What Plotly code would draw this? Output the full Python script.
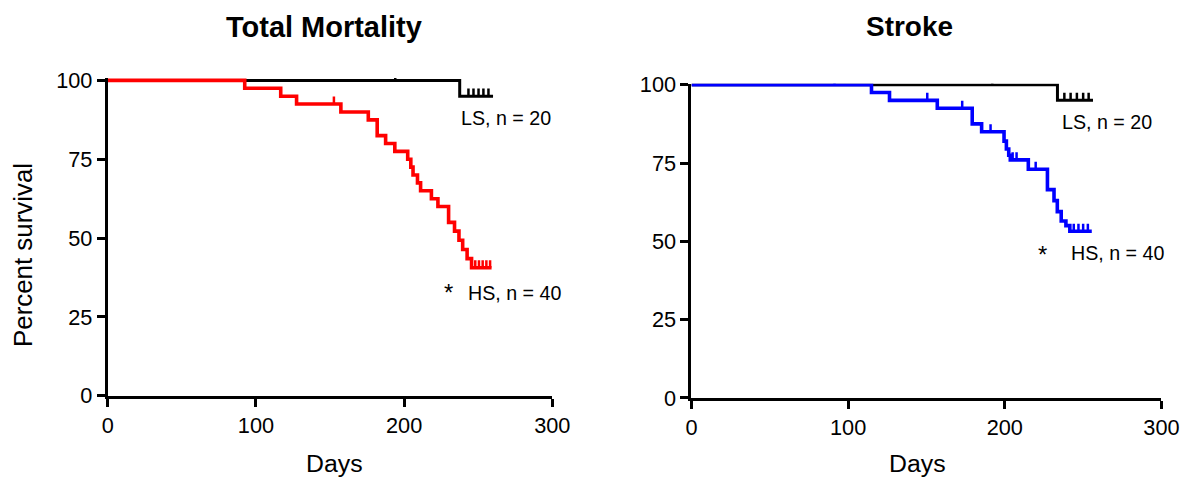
import plotly.graph_objects as go

W, H = 1182, 482

# ---------------- data ----------------
# Total Mortality (left)
tm_ls_days = [0, 237.5, 260]
tm_ls_surv = [100, 95, 95]
tm_ls_cens_days = [194, 243.4, 246.8, 250.2, 253.5, 256.9]
tm_ls_cens_surv = [100, 95, 95, 95, 95, 95]

tm_hs_days = [0, 92.4, 116.7, 127.4, 157.3, 175.8, 181.8, 187.5, 193.7, 202.4, 204.5, 206,
              209, 211.1, 218.4, 222.8, 230, 234, 237, 239.5, 242.5, 245.5, 259]
tm_hs_surv = [100, 97.5, 95, 92.5, 90, 87.5, 82.5, 80, 77.5, 75, 72.5, 70,
              67.5, 65, 62.5, 60, 55, 52.2, 49.3, 46.4, 43.5, 40.6, 40.6]
tm_hs_cens_days = [152.6, 248, 250.5, 253, 255.5, 258]
tm_hs_cens_surv = [92.5, 40.6, 40.6, 40.6, 40.6, 40.6]

# Stroke (right)
st_ls_days = [0, 233.6, 256.3]
st_ls_surv = [100, 95, 95]
st_ls_cens_days = [192, 238, 242, 246, 250, 253.5]
st_ls_cens_surv = [100, 95, 95, 95, 95, 95]

st_hs_days = [0, 114.9, 126.4, 156.9, 179.2, 185.2, 199.5, 201, 202.5, 203.5, 215, 227.2,
              231.4, 233.5, 236, 239, 241.5, 255.5]
st_hs_surv = [100, 97.5, 95, 92.5, 87.5, 85, 82, 79.5, 77.5, 76, 73, 66.5,
              63, 59.5, 56.5, 55, 53.2, 53.2]
st_hs_cens_days = [91.3, 150.5, 172.8, 190.9, 205, 207.5, 219.7, 244, 247, 250, 253]
st_hs_cens_surv = [100, 95, 92.5, 85, 76, 76, 73, 53.2, 53.2, 53.2, 53.2]

x_ticks = [0, 100, 200, 300]
y_ticks = [0, 25, 50, 75, 100]

RED = "#ff0000"
BLUE = "#0000ff"
BLACK = "#000000"
FONT = "Liberation Sans, Arial, sans-serif"

# screen-pixel -> figure-pixel compensation (measured from the rendered output)
SX, BX = 0.9786, 4.8
SY, BY = 0.954, 11.0
FS = 1.035  # font compensation


def fx(p):
    return (p - BX) / SX


def fy(p):
    return (p - BY) / SY


def paper_x(p):
    return fx(p) / W


def paper_y(p):
    return (H - fy(p)) / H


fig = go.Figure()


def add_curve(days, surv, cdays, csurv, color, width, xa, ya):
    fig.add_trace(go.Scatter(x=days, y=surv, mode="lines", line=dict(color=color, width=width, shape="hv"),
                             xaxis=xa, yaxis=ya, showlegend=False, hoverinfo="skip"))
    # censor ticks drawn upward only (one-sided error bar of constant length)
    fig.add_trace(go.Scatter(x=cdays, y=csurv, mode="markers",
                             marker=dict(size=1, color=color, opacity=0),
                             error_y=dict(type="constant", value=2.4, valueminus=0, symmetric=False,
                                          width=0, thickness=2.5, color=color),
                             xaxis=xa, yaxis=ya, showlegend=False, hoverinfo="skip", cliponaxis=False))


add_curve(tm_ls_days, tm_ls_surv, tm_ls_cens_days, tm_ls_cens_surv, BLACK, 3, "x", "y")
add_curve(tm_hs_days, tm_hs_surv, tm_hs_cens_days, tm_hs_cens_surv, RED, 3.6, "x", "y")
add_curve(st_ls_days, st_ls_surv, st_ls_cens_days, st_ls_cens_surv, BLACK, 3, "x2", "y2")
add_curve(st_hs_days, st_hs_surv, st_hs_cens_days, st_hs_cens_surv, BLUE, 3.6, "x2", "y2")

axis_common = dict(showline=True, linewidth=3, linecolor=BLACK, ticks="outside", ticklen=8,
                   tickwidth=3, tickcolor=BLACK, showgrid=False, zeroline=False,
                   tickfont=dict(family=FONT, size=21 * FS, color=BLACK), fixedrange=True)

# target screen geometry (pixels) of each panel
L_X0, L_X300, L_Y0, L_PPU = 106.5, 550.5, 397.3, 3.166
R_X0, R_X300, R_Y0, R_PPU = 689.5, 1159.0, 399.5, 3.145
l_top = 100.8
r_top = 100.3

fig.update_layout(
    xaxis=dict(domain=[paper_x(L_X0), paper_x(L_X300)], range=[0, 300], tickvals=x_ticks, anchor="y",
               **axis_common),
    yaxis=dict(domain=[paper_y(L_Y0), paper_y(L_Y0 - l_top * L_PPU)], range=[0, l_top], tickvals=y_ticks,
               anchor="x", **axis_common),
    xaxis2=dict(domain=[paper_x(R_X0), paper_x(R_X300)], range=[0, 300], tickvals=x_ticks, anchor="y2",
                **axis_common),
    yaxis2=dict(domain=[paper_y(R_Y0), paper_y(R_Y0 - r_top * R_PPU)], range=[0, r_top], tickvals=y_ticks,
                anchor="x2", **axis_common),
    width=W, height=H,
    margin=dict(l=0, r=0, t=0, b=0),
    paper_bgcolor="white", plot_bgcolor="white",
    font=dict(family=FONT, color=BLACK),
)

ann = []
# titles
ann.append(dict(text="<b>Total Mortality</b>", x=paper_x(322), y=paper_y(27), xref="paper", yref="paper",
                showarrow=False, font=dict(size=28 * FS, family=FONT, color=BLACK),
                xanchor="center", yanchor="middle"))
ann.append(dict(text="<b>Stroke</b>", x=paper_x(907), y=paper_y(27), xref="paper", yref="paper",
                showarrow=False, font=dict(size=27 * FS, family=FONT, color=BLACK),
                xanchor="center", yanchor="middle"))
# axis titles
for cx in (333, 915):
    ann.append(dict(text="Days", x=paper_x(cx), y=paper_y(465), xref="paper", yref="paper", showarrow=False,
                    font=dict(size=24 * FS, family=FONT, color=BLACK), xanchor="center", yanchor="middle"))
ann.append(dict(text="Percent survival", x=paper_x(21.7), y=paper_y(256), xref="paper", yref="paper",
                showarrow=False, textangle=-90, font=dict(size=25 * FS, family=FONT, color=BLACK),
                xanchor="center", yanchor="middle"))
# group labels (placed in data coordinates of each panel)
lab = dict(size=19 * FS, family=FONT, color=BLACK)
ast = dict(size=23 * FS, family=FONT, color=BLACK)
ann.append(dict(text="LS, n = 20", x=268.9, y=88.2, xref="x", yref="y", showarrow=False, font=lab,
                xanchor="center", yanchor="middle"))
ann.append(dict(text="HS, n = 40", x=274.5, y=32.6, xref="x", yref="y", showarrow=False, font=lab,
                xanchor="center", yanchor="middle"))
ann.append(dict(text="*", x=230, y=32.6, xref="x", yref="y", showarrow=False, font=ast,
                xanchor="center", yanchor="middle"))
ann.append(dict(text="LS, n = 20", x=265.5, y=88.1, xref="x2", yref="y2", showarrow=False, font=lab,
                xanchor="center", yanchor="middle"))
ann.append(dict(text="HS, n = 40", x=271.9, y=46.3, xref="x2", yref="y2", showarrow=False, font=lab,
                xanchor="center", yanchor="middle"))
ann.append(dict(text="*", x=224, y=45.8, xref="x2", yref="y2", showarrow=False, font=ast,
                xanchor="center", yanchor="middle"))
fig.update_layout(annotations=ann)

fig.write_html("out.html", config={"displayModeBar": False},
               post_script="document.body.style.margin='0';document.body.style.padding='0';"
                           "document.body.style.overflow='hidden';")
